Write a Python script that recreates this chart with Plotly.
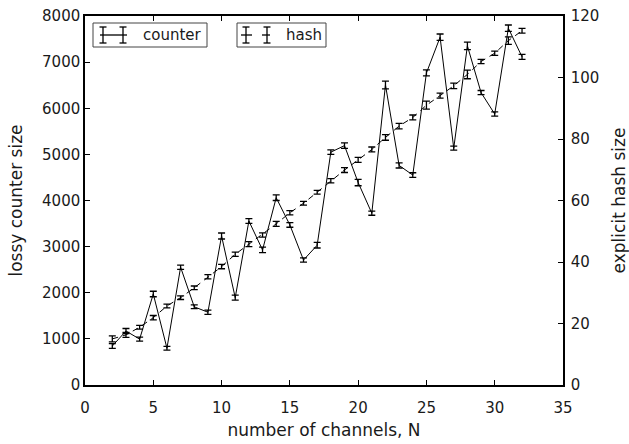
import plotly.graph_objects as go

# Number of channels
channels = list(range(2, 33))

# Lossy counter size (left axis) with error
counter_size = [845, 1170, 995, 1973, 798, 2553, 1695, 1578, 3230, 1895,
                3555, 2928, 4060, 3470, 2710, 3030, 5048, 5190, 4390, 3725,
                6505, 4760, 4552, 6765, 7540, 5135, 7352, 6340, 5875, 7735,
                7115]
counter_err = [50, 55, 45, 60, 40, 45, 40, 45, 65, 55,
               50, 60, 60, 50, 45, 60, 50, 60, 70, 45,
               85, 55, 50, 65, 70, 45, 80, 45, 45, 70,
               55]

# Explicit hash size (right axis) with error
hash_size = [15.0, 16.3, 18.8, 21.9, 25.7, 28.4, 31.6, 35.2, 38.5, 42.5,
             45.8, 48.8, 52.4, 56.0, 59.1, 62.7, 66.4, 69.9, 73.2, 76.6,
             80.5, 84.2, 87.0, 91.0, 94.1, 97.3, 101.0, 105.2, 107.9, 112.0,
             115.2]
hash_err = [1.0, 0.8, 0.6, 0.7, 0.6, 0.6, 0.6, 0.7, 0.7, 0.7,
            0.8, 0.7, 0.8, 0.7, 0.6, 0.6, 0.7, 0.8, 0.8, 0.8,
            0.9, 0.9, 0.8, 1.3, 0.8, 0.9, 1.4, 0.7, 0.7, 1.2,
            0.8]

x_ticks = [0, 5, 10, 15, 20, 25, 30, 35]

W, H = 629, 444
L, R, T, B = 85, 66, 16, 59
PW, PH = W - L - R, H - T - B

FONT = "DejaVu Sans"
INK = "#1a1a1a"

fig = go.Figure()

fig.add_trace(go.Scatter(
    x=channels, y=counter_size, name="counter", mode="lines",
    line=dict(color="black", width=1),
    error_y=dict(type="data", array=counter_err, color="black",
                 thickness=1.3, width=3.5),
    showlegend=False, yaxis="y",
))

fig.add_trace(go.Scatter(
    x=channels, y=hash_size, name="hash", mode="lines",
    line=dict(color="black", width=1, dash="6px,5px"),
    error_y=dict(type="data", array=hash_err, color="black",
                 thickness=1.3, width=3.5),
    showlegend=False, yaxis="y2",
))


def px(x):
    return (x - L) / PW


def py(y):
    return (H - B - y) / PH


shapes = []
annotations = []


def legend_box(x0, x1, y0, y1, glyph_x, dashed, label, label_x):
    shapes.append(dict(type="rect", xref="paper", yref="paper",
                       x0=px(x0), x1=px(x1), y0=py(y1), y1=py(y0),
                       line=dict(color="#444", width=1), fillcolor="white",
                       layer="above"))
    yc = (y0 + y1) / 2
    ga, gb = glyph_x
    if dashed:
        segs = [(ga - 5, ga + 6), (gb - 5, gb + 3)]
    else:
        segs = [(ga - 3, gb + 4)]
    for sa, sb in segs:
        shapes.append(dict(type="line", xref="paper", yref="paper",
                           x0=px(sa), x1=px(sb), y0=py(yc), y1=py(yc),
                           line=dict(color="black", width=1.3), layer="above"))
    for gx in (ga, gb):
        shapes.append(dict(type="line", xref="paper", yref="paper",
                           x0=px(gx), x1=px(gx), y0=py(yc - 8), y1=py(yc + 8),
                           line=dict(color="black", width=1.3), layer="above"))
        for cy in (yc - 8, yc + 8):
            shapes.append(dict(type="line", xref="paper", yref="paper",
                               x0=px(gx - 3.5), x1=px(gx + 3.5), y0=py(cy), y1=py(cy),
                               line=dict(color="black", width=1.3), layer="above"))
    annotations.append(dict(xref="paper", yref="paper", x=px(label_x), y=py(yc),
                            xanchor="left", yanchor="middle", showarrow=False,
                            text=label, font=dict(family=FONT, size=15, color=INK)))


legend_box(93, 207, 23, 47, (103, 123), False, "counter", 141)
legend_box(237, 326, 23, 47, (246, 267), True, "hash", 284)

axis_common = dict(
    showline=True, linecolor="black", linewidth=1.5,
    ticks="inside", ticklen=5, tickwidth=1, tickcolor="black",
    showgrid=False, zeroline=False, automargin=False,
    tickfont=dict(family=FONT, size=15, color=INK),
)

title_font = dict(family=FONT, size=17, color=INK)

fig.update_layout(
    width=W, height=H,
    margin=dict(l=L, r=R, t=T, b=B, autoexpand=False),
    paper_bgcolor="white", plot_bgcolor="white",
    xaxis=dict(range=[0, 35], tickvals=x_ticks, mirror="ticks",
               ticklabelstandoff=8,
               title=dict(text="number of channels, N", standoff=8,
                          font=title_font),
               **axis_common),
    yaxis=dict(range=[0, 8000], dtick=1000,
               title=dict(text="lossy counter size", standoff=15,
                          font=title_font),
               **axis_common),
    yaxis2=dict(range=[0, 120], dtick=20, overlaying="y", side="right",
                ticklabelstandoff=3,
                title=dict(text="explicit hash size", standoff=17,
                           font=title_font),
                **axis_common),
    shapes=shapes,
    annotations=annotations,
)

fig.write_html("out.html")
